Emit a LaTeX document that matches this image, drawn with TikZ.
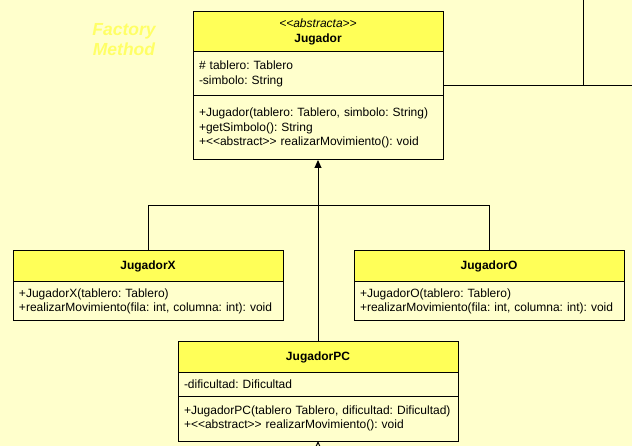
\documentclass[tikz,border=0pt]{standalone}
\usepackage{fontspec}
\setmainfont{Liberation Sans}
\usetikzlibrary{positioning,arrows.meta}
\definecolor{paper}{HTML}{FFFFCC}
\definecolor{headfill}{HTML}{FFFF58}
\definecolor{titleyellow}{HTML}{FFFF66}
\tikzset{
  classhead/.style={draw, fill=headfill, line width=1pt, outer sep=0pt, inner sep=0pt, align=center, font=\fontsize{12}{14.4}\selectfont\frenchspacing\bfseries},
  classpart/.style={draw, fill=paper, line width=1pt, outer sep=0pt, inner xsep=6pt, inner ysep=0pt, align=left, font=\fontsize{12}{14.4}\selectfont\frenchspacing},
  inherit/.style={-{Triangle[length=8pt, width=7pt]}, line width=1pt},
  openhead/.style={-{Triangle[open, length=8pt, width=7pt]}, line width=1pt},
  wire/.style={line width=1pt},
}

\begin{document}
\begin{tikzpicture}[x=1pt, y=1pt]
\path[use as bounding box, fill=paper] (0,0) rectangle (632,-446);

%Nodes
\node[font=\fontsize{17.5}{20}\selectfont\bfseries\itshape, text=titleyellow, align=center] (title) at (124,-40) {Factory\\Method};

\node[classhead, minimum width=250pt, minimum height=40pt, anchor=north] (jug) at (318,-12) {{\mdseries\itshape <\kern0pt<abstracta>\kern0pt>}\\Jugador};
\node[classpart, text width=238pt, minimum height=44pt, below=0pt of jug] (jugattr) {\# tablero: Tablero\\-simbolo: String};
\node[classpart, text width=238pt, minimum height=64pt, below=0pt of jugattr] (jugmeth) {+Jugador(tablero: Tablero, simbolo: String)\\+getSimbolo(): String\\+<\kern0pt<abstract>\kern0pt> realizarMovimiento(): void};

\node[classhead, minimum width=270pt, minimum height=31pt, anchor=north] (jx) at (148,-251) {JugadorX};
\node[classpart, text width=258pt, minimum height=39pt, below=0pt of jx] (jxmeth) {+JugadorX(tablero: Tablero)\\+realizarMovimiento(fila: int, columna: int): void};

\node[classhead, minimum width=270pt, minimum height=31pt, anchor=north] (jo) at (489,-251) {JugadorO};
\node[classpart, text width=258pt, minimum height=39pt, below=0pt of jo] (jometh) {+JugadorO(tablero: Tablero)\\+realizarMovimiento(fila: int, columna: int): void};

\node[classhead, minimum width=280pt, minimum height=30pt, anchor=north] (pc) at (318,-342) {JugadorPC};
\node[classpart, text width=268pt, minimum height=24pt, below=0pt of pc] (pcattr) {-dificultad: Dificultad};
\node[classpart, text width=268pt, minimum height=45pt, below=0pt of pcattr] (pcmeth) {+JugadorPC(tablero Tablero, dificultad: Dificultad)\\+<\kern0pt<abstract>\kern0pt> realizarMovimiento(): void};

\coordinate (fork) at (318,-206);
\coordinate (outtop) at (583,0);
\coordinate (outright) at (632,-86);
\coordinate (outbottom) at (318,-470);

%Lines
\draw[inherit] (pc.north) -- (jugmeth.south);
\draw[wire] (jx.north) |- (fork);
\draw[wire] (jo.north) |- (fork);
\draw[wire] (outtop) -- (outtop |- outright);
\draw[wire] (outright) -- (outright -| jugattr.east);
\draw[openhead] (outbottom) -- (pcmeth.south);
\end{tikzpicture}
\end{document}
